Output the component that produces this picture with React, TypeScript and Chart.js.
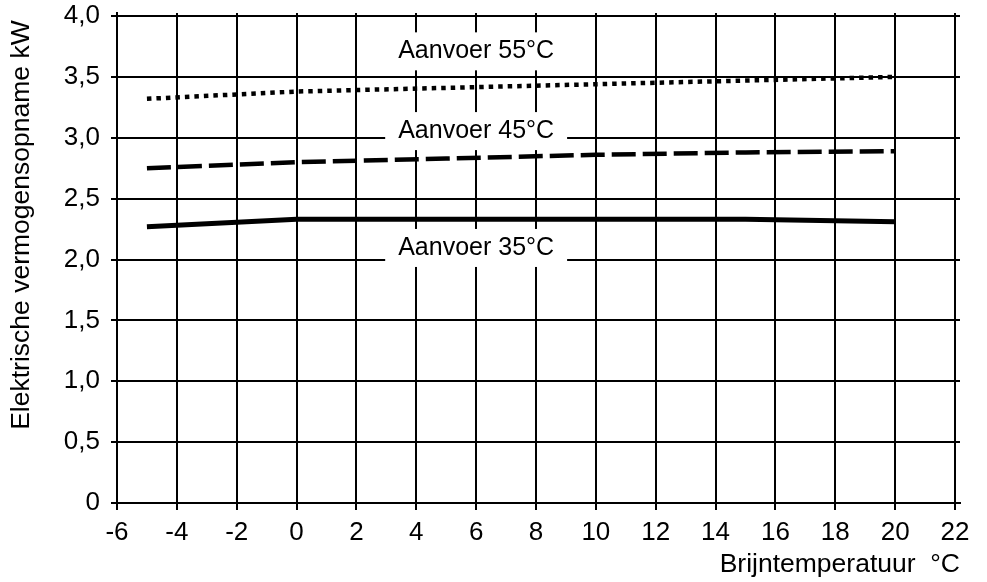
import React, { useEffect, useRef } from 'react';
import { Chart, registerables } from 'chart.js';

Chart.register(...registerables);

// ---- data ----
const brineTemps = [-5, 0, 5, 10, 15, 20];
const supply35 = [2.27, 2.33, 2.33, 2.33, 2.33, 2.31];
const supply45 = [2.75, 2.8, 2.83, 2.86, 2.88, 2.89];
const supply55 = [3.32, 3.38, 3.41, 3.44, 3.47, 3.5];
const seriesNames = ['Aanvoer 35°C', 'Aanvoer 45°C', 'Aanvoer 55°C'];
const labelAnchorX = [6, 6, 6];
const labelAnchorY = [2.095, 3.055, 3.71];
const xTickValues = [-6, -4, -2, 0, 2, 4, 6, 8, 10, 12, 14, 16, 18, 20, 22];
const yTickValues = [0, 0.5, 1, 1.5, 2, 2.5, 3, 3.5, 4];
const xTitle = 'Brijntemperatuur  °C';
const yTitle = 'Elektrische vermogensopname kW ';

const FONT = '"Liberation Sans", Arial, Helvetica, sans-serif';

const curveLabels = {
  id: 'curveLabels',
  afterDatasetsDraw(chart: any) {
    const { ctx, scales } = chart;
    const x = scales.x;
    const y = scales.y;
    ctx.save();
    ctx.font = `25px ${FONT}`;
    seriesNames.forEach((t, i) => {
      const px = x.getPixelForValue(labelAnchorX[i]);
      const py = y.getPixelForValue(labelAnchorY[i]);
      const w = ctx.measureText(t).width + 26;
      const h = 38;
      ctx.fillStyle = '#ffffff';
      ctx.fillRect(px - w / 2, py - h / 2, w, h);
      ctx.fillStyle = '#000000';
      ctx.textAlign = 'center';
      ctx.textBaseline = 'middle';
      ctx.fillText(t, px, py);
    });
    ctx.restore();
  },
};

export default function App() {
  const ref = useRef<HTMLCanvasElement | null>(null);

  useEffect(() => {
    if (!ref.current) return;
    const mk = (ys: number[]) => brineTemps.map((t, i) => ({ x: t, y: ys[i] }));
    const chart = new Chart(ref.current, {
      type: 'line',
      data: {
        datasets: [
          {
            label: seriesNames[0],
            data: mk(supply35),
            borderColor: '#000',
            borderWidth: 5,
            pointRadius: 0,
            tension: 0,
            fill: false,
          },
          {
            label: seriesNames[1],
            data: mk(supply45),
            borderColor: '#000',
            borderWidth: 4.5,
            borderDash: [24, 7],
            borderCapStyle: 'butt',
            pointRadius: 0,
            tension: 0,
            fill: false,
          },
          {
            label: seriesNames[2],
            data: mk(supply55),
            borderColor: '#000',
            borderWidth: 4.5,
            borderDash: [4.5, 5],
            borderCapStyle: 'butt',
            pointRadius: 0,
            tension: 0,
            fill: false,
          },
        ],
      },
      options: {
        responsive: false,
        animation: false,
        devicePixelRatio: 1,
        layout: { padding: { left: 0, top: 13, right: 27, bottom: 0 } },
        plugins: {
          legend: { display: false },
          tooltip: { enabled: false },
        },
        scales: {
          x: {
            type: 'linear',
            min: -6,
            max: 22.167,
            afterBuildTicks: (s: any) => {
              s.ticks = xTickValues.map((v) => ({ value: v }));
            },
            afterFit: (s: any) => {
              s.height = 79;
              s.paddingLeft = 0;
              s.paddingRight = 0;
              s.paddingTop = 0;
              s.paddingBottom = 0;
            },
            grid: {
              color: '#000',
              lineWidth: 2,
              tickLength: 7,
              drawTicks: true,
              tickColor: '#000',
            },
            border: { display: true, color: '#000', width: 2 },
            ticks: {
              color: '#000',
              font: { family: FONT, size: 26 },
              padding: 7,
              maxRotation: 0,
              autoSkip: false,
              callback: (v: any) => String(v),
            },
            title: {
              display: true,
              text: xTitle,
              align: 'end',
              color: '#000',
              font: { family: FONT, size: 26.5 },
              padding: { top: 0, bottom: 1 },
            },
          },
          y: {
            type: 'linear',
            min: 0,
            max: 4.025,
            afterBuildTicks: (s: any) => {
              s.ticks = yTickValues.map((v) => ({ value: v }));
            },
            afterFit: (s: any) => {
              s.width = 117;
              s.paddingLeft = 0;
              s.paddingRight = 0;
              s.paddingTop = 0;
              s.paddingBottom = 0;
            },
            grid: {
              color: '#000',
              lineWidth: 2,
              tickLength: 6,
              drawTicks: true,
              tickColor: '#000',
            },
            border: { display: true, color: '#000', width: 2 },
            ticks: {
              color: '#000',
              font: { family: FONT, size: 26 },
              padding: 11,
              autoSkip: false,
              callback: (v: any) => (Number(v) === 0 ? '0' : Number(v).toFixed(1).replace('.', ',')),
            },
            title: {
              display: true,
              text: yTitle,
              align: 'end',
              color: '#000',
              font: { family: FONT, size: 26.5 },
              padding: { top: 6, bottom: 0 },
            },
          },
        },
      },
      plugins: [curveLabels],
    } as any);
    return () => chart.destroy();
  }, []);

  return (
    <div style={{ position: 'absolute', left: 0, top: 0, width: 987, height: 582, background: '#fff' }}>
      <canvas ref={ref} width={987} height={582} style={{ display: 'block' }} />
    </div>
  );
}
